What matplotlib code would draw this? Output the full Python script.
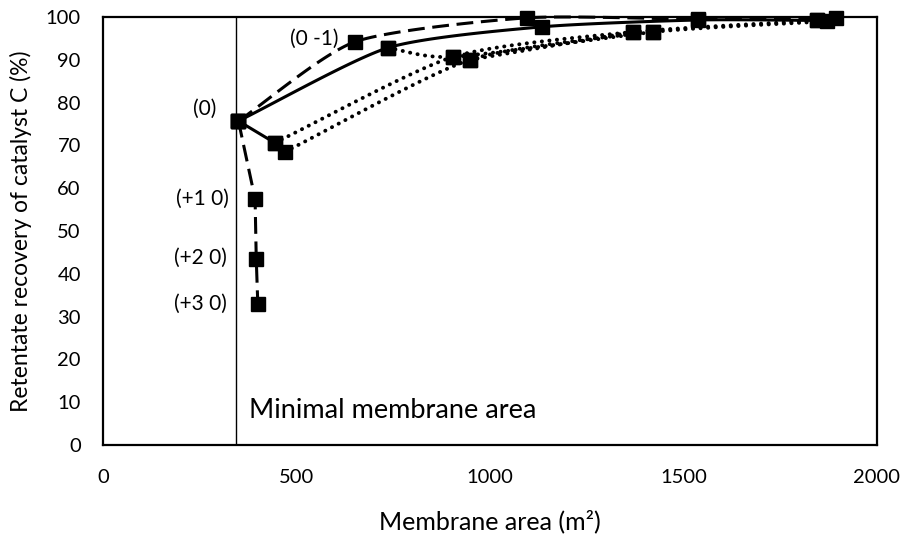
import numpy as np
import matplotlib
matplotlib.use("Agg")
import matplotlib.pyplot as plt

plt.rcParams['font.family'] = ['Lato', 'DejaVu Sans']

# --- data ---
dash_top_x = [350, 651, 1095, 1538, 1895]
dash_top_y = [75.7, 94.2, 99.8, 99.5, 99.8]

solid_x = [350, 736, 1134, 1538, 1845]
solid_y = [75.7, 92.8, 97.7, 99.3, 99.2]

solid_short_x = [350, 444]
solid_short_y = [75.7, 70.6]

dot_a_x = [444, 905, 1370, 1845]
dot_a_y = [70.6, 90.7, 96.5, 99.2]

dot_b_x = [470, 948, 1421, 1870]
dot_b_y = [68.5, 90.0, 96.5, 99.0]

dot_c_x = [736, 905, 1421]
dot_c_y = [92.8, 90.7, 96.5]

dot_d_x = [948, 1370]
dot_d_y = [90.0, 96.5]

dash_down_x = [350, 393, 396, 400]
dash_down_y = [75.7, 57.5, 43.5, 33.0]

min_area = 343

labels = ["(0)", "(0 -1)", "(+1 0)", "(+2 0)", "(+3 0)"]
label_x = [262, 545, 258, 253, 253]
label_y = [78.5, 94.8, 57.5, 43.7, 33.0]

x_ticks = [0, 500, 1000, 1500, 2000]
y_ticks = list(range(0, 101, 10))


def smooth(x, y, n=30, k=6.0):
    x = np.asarray(x, float); y = np.asarray(y, float)
    if len(x) < 3:
        return x, y
    px = np.concatenate([[2 * x[0] - x[1]], x, [2 * x[-1] - x[-2]]])
    py = np.concatenate([[2 * y[0] - y[1]], y, [2 * y[-1] - y[-2]]])
    ox, oy = [], []
    t = np.linspace(0, 1, n)
    for i in range(1, len(px) - 2):
        p0, p1, p2, p3 = [np.array([px[j], py[j]]) for j in (i - 1, i, i + 1, i + 2)]
        c1 = p1 + (p2 - p0) / k
        c2 = p2 - (p3 - p1) / k
        pts = ((1 - t) ** 3)[:, None] * p1 + (3 * (1 - t) ** 2 * t)[:, None] * c1 \
            + (3 * (1 - t) * t ** 2)[:, None] * c2 + (t ** 3)[:, None] * p2
        ox.extend(pts[:, 0]); oy.extend(pts[:, 1])
    return np.array(ox), np.array(oy)


fig = plt.figure(figsize=(9.06, 5.35), dpi=100)
ax = fig.add_axes([103 / 906, 90 / 535, 774 / 906, 428 / 535])

dashed = dict(color='black', lw=2.2, linestyle=(0, (5.5, 2.5)))
dotted = dict(color='black', lw=2.8, linestyle=(0, (0.05, 1.9)), dash_capstyle='round')
solid = dict(color='black', lw=2.2)

for xs, ys, st, sm in [
    (dash_top_x, dash_top_y, dashed, True),
    (solid_x, solid_y, solid, True),
    (solid_short_x, solid_short_y, solid, False),
    (dot_a_x, dot_a_y, dotted, True),
    (dot_b_x, dot_b_y, dotted, True),
    (dot_c_x, dot_c_y, dotted, True),
    (dot_d_x, dot_d_y, dotted, False),
    (dash_down_x, dash_down_y, dashed, False),
]:
    if sm:
        sx, sy = smooth(xs, ys, k=9.0)
    else:
        sx, sy = xs, ys
    ax.plot(sx, sy, zorder=2, clip_on=False, **st)
    ax.plot(xs, ys, linestyle='none', marker='s', markersize=10,
            color='black', zorder=3, clip_on=False)

ax.axvline(min_area, color='black', lw=1.0, zorder=1)
ax.text(min_area + 33, 8.0, "Minimal membrane area", fontsize=19.5,
        va='center', ha='left')

for lab, lx, ly in zip(labels, label_x, label_y):
    ax.text(lx, ly, lab, fontsize=15, ha='center', va='center')

ax.set_xlim(0, 2000)
ax.set_ylim(0, 100)
ax.set_xticks(x_ticks)
ax.set_yticks(y_ticks)
ax.tick_params(length=0, labelsize=14.5)
ax.tick_params(axis='x', pad=17)
ax.tick_params(axis='y', pad=16)
for s in ax.spines.values():
    s.set_linewidth(1.6)
ax.set_xlabel("Membrane area (m²)", fontsize=18)
ax.set_ylabel("Retentate recovery of catalyst C (%)", fontsize=16.5)
ax.xaxis.set_label_coords(0.5, -(521 - 445) / 428)
ax.xaxis.label.set_va('center')
ax.yaxis.set_label_coords(-(103 - 21) / 774, 0.5)
ax.yaxis.label.set_va('center')

fig.savefig("out.png", dpi=100)
